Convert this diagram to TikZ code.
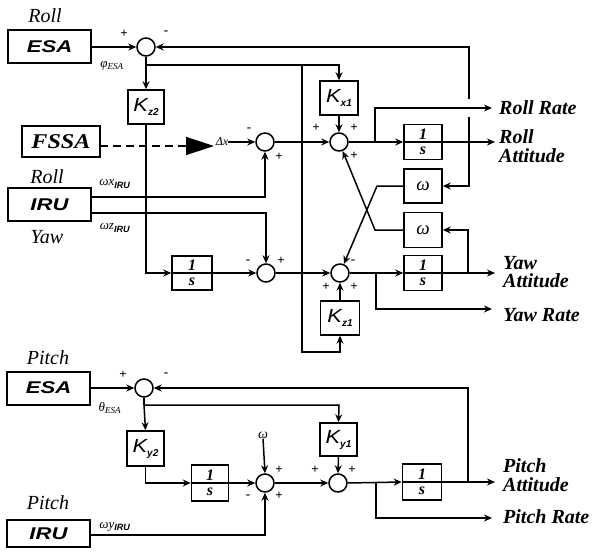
\documentclass[tikz,border=0pt]{standalone}
\usepackage{fontspec}
\setmainfont{Liberation Serif}
\setsansfont{Liberation Sans}
\usetikzlibrary{arrows.meta}
\newcommand\Klab[1]{{\fontsize{19}{19}\selectfont\sffamily\itshape\scalebox{1.15}[1]{K}}\raisebox{-4pt}{\fontsize{10}{10}\selectfont\sffamily\bfseries\itshape #1}}
\newcommand\IRUsub{\textsubscript{\sffamily\bfseries\itshape IRU}}
\begin{document}
\begin{tikzpicture}[x=1pt,y=-1pt,
  sig/.style={line width=1.5pt},
  arr/.style={line width=1.5pt,-{Stealth[length=8pt,width=7pt]}},
  sbox/.style={draw,line width=2pt,minimum width=83pt,minimum height=33pt,inner sep=0pt,font=\fontsize{17}{17}\selectfont\sffamily\bfseries\itshape},
  fbox/.style={draw,line width=2pt,minimum width=78pt,minimum height=31pt,inner sep=0pt,font=\fontsize{21}{21}\selectfont\bfseries\itshape},
  kbox/.style={draw,line width=1.5pt,minimum width=36pt,minimum height=34pt,inner sep=0pt},
  ibox/.style={draw,line width=1.5pt,minimum width=38pt,minimum height=35pt,inner sep=0pt,align=center,
    font=\fontsize{16}{14.5}\selectfont\bfseries\itshape,
    path picture={\draw[line width=1.4pt] (path picture bounding box.west) -- (path picture bounding box.east);}},
  wbox/.style={draw,line width=1.5pt,minimum width=38pt,minimum height=34pt,inner sep=0pt,font=\fontsize{19}{19}\selectfont\itshape},
  sum/.style={circle,draw,line width=1.5pt,minimum size=18pt,inner sep=0pt},
  sgn/.style={font=\fontsize{13}{13}\selectfont\bfseries,inner sep=0pt},
  axl/.style={font=\fontsize{20}{20}\selectfont\itshape,inner sep=0pt},
  sml/.style={font=\fontsize{13}{13}\selectfont\itshape,inner sep=0pt},
  outl/.style={font=\fontsize{20}{18.5}\selectfont\bfseries\itshape,inner sep=0pt,anchor=west,align=left},
]
\useasboundingbox (0,0) rectangle (596,556);

% ================= ROLL / YAW =================
\node[axl] (lroll) at (45,16) {Roll};
\node[sbox] (esa1) at (49.5,47) {\scalebox{1.3}[1]{ESA}};
\node[sum] (s1) at (146,47) {};
\node[sgn] (p1a) at (124,34) {+};
\node[sgn] (p1b) at (166,33) {-};
\node[sml] (phil) at (112,66) {φ\textsubscript{ESA}};
\coordinate (j1) at (146,65);
\coordinate (j1b) at (302,65);
\coordinate (jk) at (302,352);
\node[kbox] (kz2) at (146,107) {\Klab{z2}};
\node[kbox,minimum width=38pt] (kx1) at (339,98) {\Klab{x1}};

\node[fbox] (fssa) at (61,142) {\scalebox{1.15}[1]{FSSA}};
\coordinate (fst) at (100,146);
\coordinate (fend) at (214,146);
\node[font=\fontsize{12}{12}\selectfont\itshape,inner sep=0pt] (dx) at (222,142) {Δx};

\node[sum] (s2) at (265,142) {};
\node[sgn] (p2a) at (249,130) {-};
\node[sgn] (p2b) at (279,157) {+};
\node[sum] (s3) at (339,142) {};
\node[sgn] (p3a) at (316,128) {+};
\node[sgn] (p3b) at (354,128) {+};
\node[sgn] (p3c) at (354,156) {+};
\node[ibox] (int1) at (423,142) {1\\s};
\node[wbox] (w1) at (423,186) {ω};
\node[wbox,minimum height=35pt] (w2) at (423,230) {ω};

\node[axl] (lroll2) at (47,177) {Roll};
\node[sbox] (iru1) at (49.5,204.5) {\scalebox{1.3}[1]{IRU}};
\node[axl] (lyaw) at (47,237) {Yaw};
\node[sml] (wxl) at (115,184) {ωx\IRUsub};
\node[sml] (wzl) at (115,228) {ωz\IRUsub};
\coordinate (wxs) at (91,197);
\coordinate (wzs) at (91,213);

\node[ibox,minimum width=40pt,minimum height=34pt] (int2) at (192,273) {1\\s};
\node[sum] (s5) at (266,273) {};
\node[sgn] (p5a) at (248,262) {-};
\node[sgn] (p5b) at (281,261) {+};
\node[sum] (s4) at (340,273) {};
\node[sgn] (p4a) at (353,262) {-};
\node[sgn] (p4b) at (326,287) {+};
\node[sgn] (p4c) at (354,287) {+};
\node[ibox] (int3) at (423,273) {1\\s};
\node[kbox,minimum width=39pt] (kz1) at (340,318) {\Klab{z1}};

\coordinate (b1) at (375,142);
\coordinate (rr) at (492,108);
\coordinate (ra) at (495,142);
\coordinate (f1) at (469,142);
\coordinate (g1) at (469,117);
\coordinate (g2) at (469,99);
\coordinate (f1top) at (469,47);
\coordinate (c1) at (377,186);
\coordinate (c2) at (375,230);
\coordinate (b2) at (376,273);
\coordinate (yr) at (492,309);
\coordinate (ya) at (495,273);
\coordinate (f2) at (468,273);

\node[outl] (lrr) at (499,108) {Roll Rate};
\node[outl] (lra) at (499,146) {Roll\\Attitude};
\node[outl] (lya) at (503,272) {Yaw\\Attitude};
\node[outl] (lyr) at (503,315) {Yaw Rate};

\draw[arr] (esa1.east) -- (s1.west);
\draw[sig] (s1.south) -- (j1);
\draw[arr] (j1) -- (kz2.north);
\draw[sig] (j1) -- (j1b);
\draw[arr] (j1b) -| (kx1.north);
\draw[arr] (j1b) -- (jk) -| (kz1.south);
\draw[arr] (kx1.south) -- (s3.north);
\draw[arr] (kz2.south) |- (int2.west);
\draw[dash pattern=on 8pt off 5pt,line width=1.5pt,-{Triangle[length=28pt,width=18pt]}] (fst) -- (fend);
\draw[arr] (dx.east) -- (s2.west);
\draw[arr] (s2.east) -- (s3.west);
\draw[arr] (s3.east) -- (int1.west);
\draw[arr] (b1) |- (rr);
\draw[arr] (int1.east) -- (ra);
\draw[sig] (f1) -- (g1);
\draw[arr] (g2) -- (f1top) -- (s1.east);
\draw[arr] (f1) |- (w1.east);
\draw[arr] (w1.west) -- (c1) -- (s4);
\draw[arr] (w2.west) -- (c2) -- (s3);
\draw[arr] (wxs) -| (s2.south);
\draw[arr] (wzs) -| (s5.north);
\draw[arr] (int2.east) -- (s5.west);
\draw[arr] (s5.east) -- (s4.west);
\draw[arr] (s4.east) -- (int3.west);
\draw[arr] (b2) |- (yr);
\draw[arr] (int3.east) -- (ya);
\draw[arr] (f2) |- (w2.east);
\draw[arr] (kz1.north) -- (s4.south);

% ================= PITCH =================
\node[axl] (lpitch) at (48,358) {Pitch};
\node[sbox] (esa2) at (48.5,388) {\scalebox{1.3}[1]{ESA}};
\node[sum] (s6) at (144,388) {};
\node[sgn] (p6a) at (123,375) {+};
\node[sgn] (p6b) at (166,375) {-};
\node[sml] (thl) at (110,408) {θ\textsubscript{ESA}};
\coordinate (j2) at (144,405);
\coordinate (j2b) at (339,405);
\node[kbox,minimum width=37pt,minimum height=35pt] (ky2) at (145.5,448.5) {\Klab{y2}};
\node[kbox,minimum width=37pt,minimum height=33pt] (ky1) at (338.5,439.5) {\Klab{y1}};
\node[ibox,minimum width=37pt,minimum height=36pt] (int4) at (210,483) {1\\s};
\node[sum] (s7) at (265,483) {};
\node[font=\fontsize{14}{14}\selectfont\itshape,inner sep=0pt] (wl) at (263,435) {ω};
\node[sgn] (p7a) at (279,470) {+};
\node[sgn] (p7b) at (248,497) {-};
\node[sgn] (p7c) at (279,496) {+};
\node[sum] (s8) at (338,483) {};
\node[sgn] (p8a) at (315,470) {+};
\node[sgn] (p8b) at (352,470) {+};
\node[ibox,minimum width=39pt,minimum height=36pt] (int5) at (422,482) {1\\s};
\node[axl] (lpitch2) at (48,503) {Pitch};
\node[sbox,minimum height=27pt] (iru2) at (48.5,533.5) {\scalebox{1.3}[1]{IRU}};
\node[sml] (wyl) at (115,527) {ωy\IRUsub};
\coordinate (wys) at (90,535);
\coordinate (b3) at (376,482);
\coordinate (pr) at (492,518);
\coordinate (pa) at (495,482);
\coordinate (f3) at (468,482);
\coordinate (f3top) at (468,388);

\node[outl] (lpa) at (503,475) {Pitch\\Attitude};
\node[outl] (lpr) at (503,517) {Pitch Rate};

\draw[arr] (esa2.east) -- (s6.west);
\draw[sig] (s6.south) -- (j2);
\draw[arr] (j2) -- (ky2.north);
\draw[arr] (j2) -- (j2b) -- (ky1.north);
\draw[arr] (ky2.south) |- (int4.west);
\draw[arr] (int4.east) -- (s7.west);
\draw[arr] (wl.south) -- (s7.north);
\draw[arr] (s7.east) -- (s8.west);
\draw[arr] (ky1.south) -- (s8.north);
\draw[arr] (s8.east) -- (int5.west);
\draw[arr] (b3) |- (pr);
\draw[arr] (int5.east) -- (pa);
\draw[arr] (f3) -- (f3top) -- (s6.east);
\draw[arr] (wys) -| (s7.south);
\end{tikzpicture}
\end{document}
